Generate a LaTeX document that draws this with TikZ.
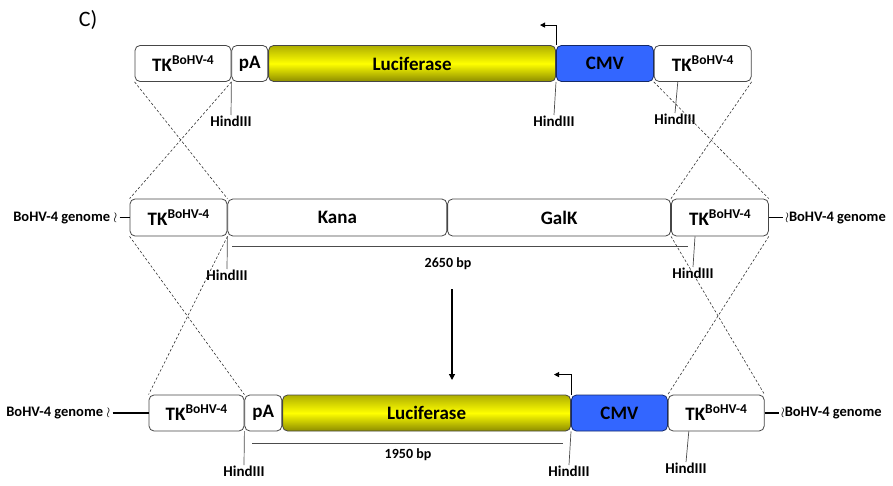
\documentclass[tikz,border=0pt]{standalone}
\usepackage{fontspec}
\setmainfont{Carlito}
\usetikzlibrary{positioning, arrows.meta, calc}

\definecolor{lucyellow}{RGB}{255,255,0}
\definecolor{lucolive}{RGB}{140,140,0}
\definecolor{cmvblue}{RGB}{51,102,255}
\definecolor{segline}{RGB}{70,70,70}

\newcommand{\tkname}{TK\raisebox{0.36em}{\fontsize{13.5}{14}\selectfont BoHV-4}}

\tikzset{
 seg/.style={draw=segline, line width=0.8pt, rounded corners=5pt, inner sep=0pt,
  minimum height=36pt, font=\fontsize{19}{21}\selectfont\bfseries},
 tkbox/.style={seg, fill=white, minimum width=96pt},
 lucbox/.style={seg, top color=lucolive!70!lucyellow, bottom color=lucolive,
  middle color=lucyellow, minimum width=287pt},
 cmvbox/.style={seg, fill=cmvblue, draw=cmvblue!40!black, minimum width=97pt},
 site/.style={anchor=north, inner sep=1pt, font=\fontsize{15}{16}\selectfont\bfseries},
 genome/.style={inner sep=2pt, font=\fontsize{14.5}{16}\selectfont\bfseries},
 bp/.style={inner sep=1pt, font=\fontsize{14}{16}\selectfont\bfseries},
 cut/.style={draw=black!70, line width=0.7pt},
 cross/.style={dashed, dash pattern=on 2.5pt off 2pt, line width=0.6pt, draw=black!80},
 tail/.style={line width=1.6pt},
 promoter/.style={line width=0.9pt, -{Triangle[length=5pt,width=5pt]}}
}

\begin{document}
\begin{tikzpicture}[x=1pt, y=-1pt]
\useasboundingbox (0,0) rectangle (893,486);

\node[font=\fontsize{22}{24}\selectfont] (title) at (88,20) {C)};

% donor plasmid
\node[tkbox] (tkA) at (183,63.5) {\tkname};
\node[seg, fill=white, minimum width=36pt, right=0pt of tkA] (paA) {pA};
\node[lucbox, right=0pt of paA] (lucA) {Luciferase};
\node[cmvbox, right=0pt of lucA] (cmvA) {CMV};
\node[tkbox, minimum width=97pt, right=0pt of cmvA] (tkB) {\tkname};

\draw[promoter] (lucA.north east) -- ++(0,-20) -- ++(-16,0);

\node[site] (hA) at (231,115) {HindIII};
\node[site] (hB) at (554,115) {HindIII};
\node[site] (hC) at (675,113) {HindIII};
\draw[cut] (tkA.south east) -- (hA.north);
\draw[cut] (lucA.south east) -- (hB.north);
\draw[cut] ($(tkB.south west)+(24,0)$) -- (hC.north);

% BoHV-4 genome with Kana/GalK
\node[tkbox, minimum width=97pt, minimum height=37pt] (tkC) at (178.5,217.5) {\tkname};
\node[seg, fill=white, minimum width=219pt, minimum height=37pt, right=0pt of tkC] (kana) {Kana};
\node[seg, fill=white, minimum width=223pt, minimum height=37pt, right=0pt of kana] (galk) {GalK};
\node[tkbox, minimum width=97pt, minimum height=37pt, right=0pt of galk] (tkD) {\tkname};

\node[genome, left=10pt of tkC] (genC) {BoHV-4 genome $\wr$};
\node[genome, right=14pt of tkD] (genD) {$\wr$BoHV-4 genome};
\draw[tail] (genC.east) -- (tkC.west);
\draw[tail] (tkD.east) -- (genD.west);

\node[site] (hD) at (227,269) {HindIII};
\node[site] (hE) at (693,267) {HindIII};
\draw[cut] (tkC.south east) -- (hD.north);
\draw[cut] ($(tkD.south west)+(24,0)$) -- (hE.north);

\draw[cut] (232,246) coordinate (spanA) -- (688,246) coordinate (spanB);
\node[bp] (bpA) at (448,264) {2650 bp};

\draw[line width=1.2pt, -{Triangle[length=6pt,width=6pt]}] (452,289) coordinate (down1) -- (452,380) coordinate (down2);

% recombinant
\node[tkbox, minimum width=95pt] (tkE) at (196.5,413) {\tkname};
\node[seg, fill=white, minimum width=37pt, right=0pt of tkE] (paE) {pA};
\node[lucbox, minimum width=288pt, right=0pt of paE] (lucE) {Luciferase};
\node[cmvbox, minimum width=96pt, right=0pt of lucE] (cmvE) {CMV};
\node[tkbox, right=0pt of cmvE] (tkF) {\tkname};

\draw[promoter] (lucE.north east) -- ++(0,-20) -- ++(-17,0);

\node[genome, left=36pt of tkE] (genE) {BoHV-4 genome $\wr$};
\node[genome, right=14pt of tkF] (genF) {$\wr$BoHV-4 genome};
\draw[tail] (genE.east) -- (tkE.west);
\draw[tail] (tkF.east) -- (genF.west);

\node[site] (hF) at (244,465) {HindIII};
\node[site] (hG) at (569,465) {HindIII};
\node[site] (hH) at (686,462) {HindIII};
\draw[cut] (tkE.south east) -- (hF.north);
\draw[cut] (lucE.south east) -- (hG.north);
\draw[cut] ($(tkF.south west)+(21,0)$) -- (hH.north);

\draw[cut] (252,443) coordinate (spanC) -- (563,443) coordinate (spanD);
\node[bp] (bpB) at (408,455) {1950 bp};

% crossing-over
\draw[cross] (tkA.south west) -- (tkC.north east);
\draw[cross] (tkA.south east) -- (tkC.north west);
\draw[cross] (tkB.south west) -- (tkD.north east);
\draw[cross] (tkB.south east) -- (tkD.north west);
\draw[cross] (tkC.south west) -- (tkE.north east);
\draw[cross] (tkC.south east) -- (tkE.north west);
\draw[cross] (tkD.south west) -- (tkF.north east);
\draw[cross] (tkD.south east) -- (tkF.north west);
\end{tikzpicture}
\end{document}
